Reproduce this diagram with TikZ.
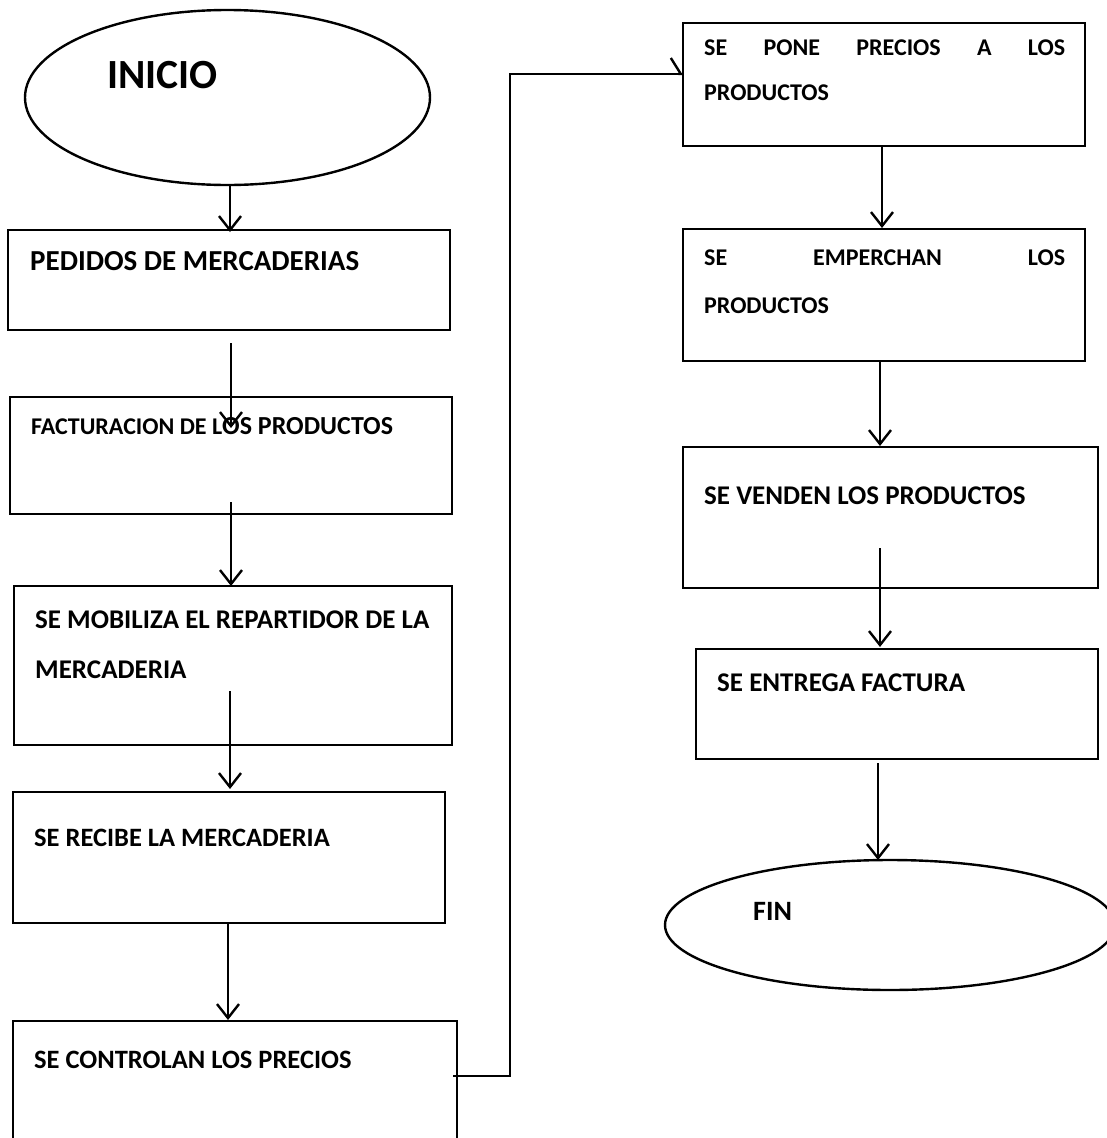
\documentclass[tikz,border=0pt]{standalone}
\usepackage{fontspec}
\setmainfont{Carlito}
\usetikzlibrary{arrows.meta,shapes.geometric}
\tikzset{
  boxnode/.style={draw, line width=2.8pt, rectangle, inner sep=0pt},
  ovalnode/.style={draw, line width=2.4pt, ellipse, inner sep=0pt},
  lbl/.style={anchor=base west, inner sep=0pt, font=\bfseries\fontsize{26.5}{30}\selectfont},
  smalllbl/.style={anchor=base west, inner sep=0pt, font=\bfseries\fontsize{24}{28}\selectfont},
  flow/.style={line width=2.4pt, -{Straight Barb[length=14pt, width=22pt]}},
  harp/.style={line width=2.4pt, -{Straight Barb[harpoon, length=10pt, width=32pt]}}
}
\begin{document}
\begin{tikzpicture}[x=1pt, y=-1pt]
\useasboundingbox (0,0) rectangle (1107,1138);
% shapes
\node[ovalnode, minimum width=405pt, minimum height=175pt] (inicio) at (227.5,97.5) {};
\node[boxnode, minimum width=442pt, minimum height=100pt] (pedidos) at (229,280) {};
\node[boxnode, minimum width=442pt, minimum height=117pt] (factur) at (231,455.5) {};
\node[boxnode, minimum width=438pt, minimum height=159pt] (mobil) at (233,665.5) {};
\node[boxnode, minimum width=432pt, minimum height=131pt] (recibe) at (229,857.5) {};
\node[boxnode, minimum width=444pt, minimum height=139pt] (control) at (235,1090.5) {};
\node[boxnode, minimum width=402pt, minimum height=123pt] (pone) at (884,84.5) {};
\node[boxnode, minimum width=402pt, minimum height=132pt] (emper) at (884,295) {};
\node[boxnode, minimum width=415pt, minimum height=141pt] (venden) at (890.5,517.5) {};
\node[boxnode, minimum width=402pt, minimum height=110pt] (entrega) at (897,704) {};
\node[ovalnode, minimum width=450pt, minimum height=130pt] (fin) at (890,925) {};
% texts
\node[anchor=base west, inner sep=0pt, font=\bfseries\fontsize{41.5}{46}\selectfont] (tinicio) at (107,88) {INICIO};
\node[lbl, font=\bfseries\fontsize{29}{33}\selectfont] (tpedidos) at (30,270) {PEDIDOS DE MERCADERIAS};
\node[lbl, font=\bfseries\fontsize{26}{30}\selectfont] (tfactur) at (31,434) {{\fontsize{24}{28}\selectfont FACTURACION DE L}OS PRODUCTOS};
\node[lbl, font=\bfseries\fontsize{27}{31}\selectfont] (tmobil1) at (35,628) {SE MOBILIZA EL REPARTIDOR DE LA};
\node[lbl, font=\bfseries\fontsize{27}{31}\selectfont] (tmobil2) at (35,678) {MERCADERIA};
\node[lbl] (trecibe) at (34,846) {SE RECIBE LA MERCADERIA};
\node[lbl] (tcontrol) at (34,1068) {SE CONTROLAN LOS PRECIOS};
\node[smalllbl] (tpone1) at (704,55) {\makebox[361pt][s]{SE\hfill PONE\hfill PRECIOS\hfill A\hfill LOS}};
\node[smalllbl] (tpone2) at (704,100) {PRODUCTOS};
\node[smalllbl] (temper1) at (704,265) {\makebox[361pt][s]{SE\hfill EMPERCHAN\hfill LOS}};
\node[smalllbl] (temper2) at (704,313) {PRODUCTOS};
\node[lbl, font=\bfseries\fontsize{27}{31}\selectfont] (tvenden) at (704,504) {SE VENDEN LOS PRODUCTOS};
\node[lbl, font=\bfseries\fontsize{27}{31}\selectfont] (tentrega) at (717,691) {SE ENTREGA FACTURA};
\node[lbl, font=\bfseries\fontsize{28}{32}\selectfont] (tfin) at (753,920) {FIN};
% connector end points
\coordinate (a1s) at (230,185);  \coordinate (a1e) at (230,232);
\coordinate (a2s) at (231,343);  \coordinate (a2e) at (231,428);
\coordinate (a3s) at (231,502);  \coordinate (a3e) at (231,586);
\coordinate (a4s) at (230,691);  \coordinate (a4e) at (230,789);
\coordinate (a5s) at (228,923);  \coordinate (a5e) at (228,1020);
\coordinate (a6s) at (453,1076); \coordinate (a6e) at (683,74);
\coordinate (a7s) at (882,146);  \coordinate (a7e) at (882,228);
\coordinate (a8s) at (880,361);  \coordinate (a8e) at (880,446);
\coordinate (a9s) at (880,548);  \coordinate (a9e) at (880,647);
\coordinate (a10s) at (878,763); \coordinate (a10e) at (878,860);
% connectors
\draw[flow] (a1s) -- (a1e);
\draw[flow] (a2s) -- (a2e);
\draw[flow] (a3s) -- (a3e);
\draw[flow] (a4s) -- (a4e);
\draw[flow] (a5s) -- (a5e);
\draw[harp] (a6s) -- (510,1076) -- (510,74) -- (a6e);
\draw[flow] (a7s) -- (a7e);
\draw[flow] (a8s) -- (a8e);
\draw[flow] (a9s) -- (a9e);
\draw[flow] (a10s) -- (a10e);
\end{tikzpicture}
\end{document}
